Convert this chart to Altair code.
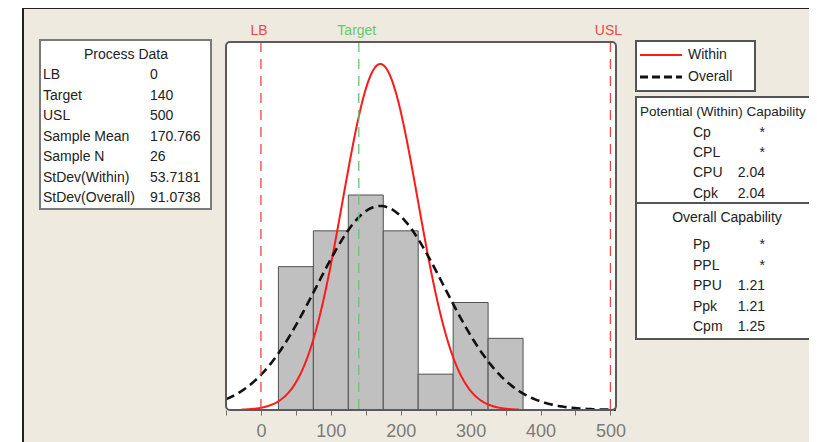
import altair as alt
import numpy as np
import pandas as pd

# ---------------- data ----------------
bin_starts = [25, 75, 125, 175, 225, 275, 325]
bin_ends = [75, 125, 175, 225, 275, 325, 375]
counts = [4, 5, 6, 5, 1, 3, 2]
bin_width = 50

sample_mean = 170.766
sample_n = 26
stdev_within = 53.7181
stdev_overall = 91.0738

spec_names = ["LB", "Target", "USL"]
spec_values = [0, 140, 500]
spec_colors = ["#EE4646", "#6CC46C", "#EE4646"]

tick_values = [-50, 0, 50, 100, 150, 200, 250, 300, 350, 400, 450, 500]

process_labels = ["LB", "Target", "USL", "Sample Mean", "Sample N",
                  "StDev(Within)", "StDev(Overall)"]
process_values = ["0", "140", "500", "170.766", "26", "53.7181", "91.0738"]

within_labels = ["Cp", "CPL", "CPU", "Cpk"]
within_values = ["*", "*", "2.04", "2.04"]
overall_labels = ["Pp", "PPL", "PPU", "Ppk", "Cpm"]
overall_values = ["*", "*", "1.21", "1.21", "1.25"]

X_DOMAIN = [-50, 508]
Y_DOMAIN = [0, 10.27]
W, H = 390, 368
FONT = "Liberation Sans"


def normal_curve(mu, sd, k=3.7, n=300):
    lo = max(X_DOMAIN[0], mu - k * sd)
    hi = min(X_DOMAIN[1], mu + k * sd)
    xs = np.linspace(lo, hi, n)
    ys = sample_n * bin_width * np.exp(-0.5 * ((xs - mu) / sd) ** 2) / (sd * np.sqrt(2 * np.pi))
    return pd.DataFrame({"x": xs, "y": ys})


hist_df = pd.DataFrame({"start": bin_starts, "end": bin_ends, "count": counts})
within_df = normal_curve(sample_mean, stdev_within)
overall_df = normal_curve(sample_mean, stdev_overall)
spec_df = pd.DataFrame({"name": spec_names, "value": spec_values, "color": spec_colors})

xscale = alt.Scale(domain=X_DOMAIN, nice=False, zero=False)
yscale = alt.Scale(domain=Y_DOMAIN, nice=False, zero=False)
xaxis = alt.Axis(values=tick_values, labelExpr="datum.value % 100 == 0 ? datum.label : ''",
                 title=None, grid=False, domain=False, tickColor="#707070", tickSize=5,
                 labelColor="#7a7a7a", labelFont=FONT, labelFontSize=18, labelPadding=7,
                 labelFlush=False, labelOverlap=False, zindex=2)

one = pd.DataFrame({"a": [0]})

# ---------------- background / frames ----------------
beige = alt.Chart(one).mark_rect(fill="#EEEAE0").encode(
    x=alt.value(-203), x2=alt.value(620), y=alt.value(-34), y2=alt.value(420))
outer_v = alt.Chart(one).mark_rule(color="#222222", strokeWidth=2).encode(
    x=alt.value(-203), y=alt.value(-34), y2=alt.value(420))
outer_h = alt.Chart(one).mark_rule(color="#222222", strokeWidth=2).encode(
    x=alt.value(-203), x2=alt.value(620), y=alt.value(-34))
plot_bg = alt.Chart(one).mark_rect(fill="white").encode(
    x=alt.value(0), x2=alt.value(W), y=alt.value(0), y2=alt.value(H))
plot_frame = alt.Chart(one).mark_rect(filled=False, stroke="#5a5a5a", strokeWidth=2,
                                       cornerRadius=4).encode(
    x=alt.value(0), x2=alt.value(W), y=alt.value(0), y2=alt.value(H))

# ---------------- data layers ----------------
hist = alt.Chart(hist_df).mark_rect(fill="#C0C0C0", stroke="#505050", strokeWidth=1).encode(
    x=alt.X("start:Q", scale=xscale, axis=xaxis),
    x2="end:Q",
    y=alt.Y("count:Q", scale=yscale, axis=None),
    y2=alt.datum(0),
)

within_line = alt.Chart(within_df).mark_line(color="#FF1A1A", strokeWidth=2).encode(
    x=alt.X("x:Q", scale=xscale, axis=xaxis),
    y=alt.Y("y:Q", scale=yscale, axis=None),
)
overall_line = alt.Chart(overall_df).mark_line(color="#111111", strokeWidth=2.6,
                                                strokeDash=[9, 5]).encode(
    x=alt.X("x:Q", scale=xscale, axis=xaxis),
    y=alt.Y("y:Q", scale=yscale, axis=None),
)

spec_rules = alt.Chart(spec_df).mark_rule(strokeWidth=1.3, strokeDash=[10, 7]).encode(
    x=alt.X("value:Q", scale=xscale, axis=xaxis),
    y=alt.value(0), y2=alt.value(H),
    color=alt.Color("color:N", scale=None),
)
spec_text = alt.Chart(spec_df).mark_text(font=FONT, fontSize=14, baseline="middle",
                                          dx=-2).encode(
    x=alt.X("value:Q", scale=xscale, axis=xaxis),
    y=alt.value(-11),
    text="name:N",
    color=alt.Color("color:N", scale=None),
)

# ---------------- Process Data box ----------------
pd_df = pd.DataFrame({"label": process_labels, "val": process_values,
                      "py": [33 + 20.5 * i for i in range(len(process_labels))]})
pd_box = alt.Chart(one).mark_rect(fill="white", stroke="#7a7a7a", strokeWidth=2).encode(
    x=alt.value(-186), x2=alt.value(-15), y=alt.value(-2), y2=alt.value(167))
pd_title = alt.Chart(one).mark_text(text="Process Data", font=FONT, fontSize=14,
                                     color="#222222", align="center", baseline="middle").encode(
    x=alt.value(-100), y=alt.value(13))
pd_lab = alt.Chart(pd_df).mark_text(font=FONT, fontSize=14, color="#222222", align="left",
                                     baseline="middle").encode(
    x=alt.value(-183), y=alt.Y("py:Q", scale=None, axis=None), text="label:N")
pd_val = alt.Chart(pd_df).mark_text(font=FONT, fontSize=14, color="#222222", align="left",
                                     baseline="middle").encode(
    x=alt.value(-76), y=alt.Y("py:Q", scale=None, axis=None), text="val:N")

# ---------------- legend box ----------------
lg_box = alt.Chart(one).mark_rect(fill="white", stroke="#555555", strokeWidth=2).encode(
    x=alt.value(410), x2=alt.value(529), y=alt.value(-1), y2=alt.value(49))
lg_within = alt.Chart(one).mark_rule(color="#FF1A1A", strokeWidth=2).encode(
    x=alt.value(414), x2=alt.value(456), y=alt.value(13))
lg_overall = alt.Chart(one).mark_rule(color="#111111", strokeWidth=3, strokeDash=[8, 4]).encode(
    x=alt.value(414), x2=alt.value(456), y=alt.value(35))
lg_text = alt.Chart(pd.DataFrame({"t": ["Within", "Overall"], "py": [13, 35]})).mark_text(
    font=FONT, fontSize=14, color="#222222", align="left", baseline="middle").encode(
    x=alt.value(462), y=alt.Y("py:Q", scale=None, axis=None), text="t:N")

# ---------------- capability box ----------------
cap_box = alt.Chart(one).mark_rect(fill="white", stroke="#555555", strokeWidth=2).encode(
    x=alt.value(410), x2=alt.value(640), y=alt.value(55), y2=alt.value(297))
cap_div = alt.Chart(one).mark_rule(color="#555555", strokeWidth=2).encode(
    x=alt.value(410), x2=alt.value(640), y=alt.value(161))
cap_t1 = alt.Chart(one).mark_text(text="Potential (Within) Capability", font=FONT, fontSize=13.5,
                                   color="#222222", align="left", baseline="middle").encode(
    x=alt.value(414), y=alt.value(70))
cap_t2 = alt.Chart(one).mark_text(text="Overall Capability", font=FONT, fontSize=14,
                                   color="#222222", align="center", baseline="middle").encode(
    x=alt.value(501), y=alt.value(176))
cap_df = pd.DataFrame({
    "label": within_labels + overall_labels,
    "val": within_values + overall_values,
    "py": [91 + 20.2 * i for i in range(len(within_labels))]
          + [203 + 20.5 * i for i in range(len(overall_labels))],
})
cap_lab = alt.Chart(cap_df).mark_text(font=FONT, fontSize=14, color="#222222", align="left",
                                       baseline="middle").encode(
    x=alt.value(467), y=alt.Y("py:Q", scale=None, axis=None), text="label:N")
cap_val = alt.Chart(cap_df).mark_text(font=FONT, fontSize=14, color="#222222", align="right",
                                       baseline="middle").encode(
    x=alt.value(539), y=alt.Y("py:Q", scale=None, axis=None), text="val:N")

chart = alt.layer(
    beige, outer_v, outer_h, plot_bg,
    hist, within_line, overall_line, spec_rules, spec_text, plot_frame,
    pd_box, pd_title, pd_lab, pd_val,
    lg_box, lg_within, lg_overall, lg_text,
    cap_box, cap_div, cap_t1, cap_t2, cap_lab, cap_val,
).properties(
    width=W, height=H,
    autosize=alt.AutoSizeParams(type="none"),
    padding={"left": 218, "top": 34, "right": 193, "bottom": 42},
).configure(background="white").configure_view(strokeWidth=0)

chart.save("out.html", embed_options={"renderer": "svg", "actions": False})
